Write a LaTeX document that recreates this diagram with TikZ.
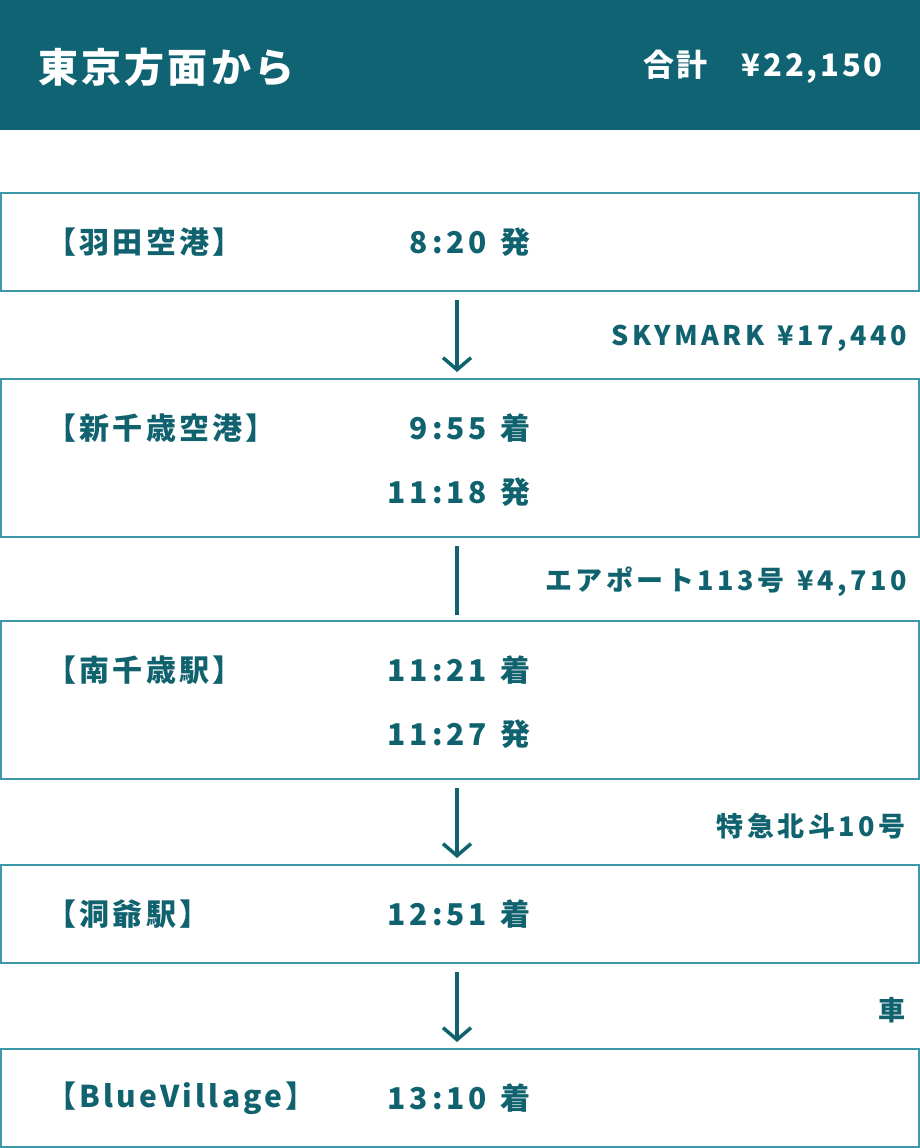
\documentclass[tikz,border=0pt]{standalone}
\usepackage{fontspec}
\setmainfont{Noto Sans CJK JP}
\usetikzlibrary{arrows.meta,calc}
\definecolor{headbg}{HTML}{0F6373}
\definecolor{txt}{HTML}{10626F}
\definecolor{frame}{HTML}{3D98AA}
\tikzset{
  stopbox/.style={draw=frame,line width=2pt,minimum width=918pt,minimum height=98pt,inner sep=0pt,fill=white},
  place/.style={anchor=west,text=txt,font=\fontsize{30pt}{32pt}\selectfont\bfseries\addfontfeatures{LetterSpace=11},inner sep=0pt},
  ttime/.style={anchor=east,text=txt,font=\fontsize{30pt}{32pt}\selectfont\bfseries\addfontfeatures{LetterSpace=13},inner sep=0pt},
  leg/.style={anchor=east,text=txt,font=\fontsize{27pt}{29pt}\selectfont\bfseries\addfontfeatures{LetterSpace=13},inner sep=0pt},
  conn/.style={draw=txt,line width=3.5pt},
  connarrow/.style={conn,-{Straight Barb[length=12pt,width=28pt,line width=3.5pt]}},
}
\begin{document}
\begin{tikzpicture}[x=1pt,y=-1pt]
\useasboundingbox (0,0) rectangle (920,1148);
\fill[headbg] (0,0) rectangle (920,130);
\node[anchor=west,text=white,inner sep=0pt,font=\fontsize{40pt}{42pt}\selectfont\bfseries\addfontfeatures{LetterSpace=8}] (title) at (38,67) {東京方面から};
\node[anchor=east,text=white,inner sep=0pt,font=\fontsize{31pt}{33pt}\selectfont\bfseries\addfontfeatures{LetterSpace=9}] (total) at (883,67) {合計\hspace{1.1em}¥22,150};

\node[stopbox] (b1) at (460,242) {};
\node[stopbox,minimum height=158pt] (b2) at (460,458) {};
\node[stopbox,minimum height=158pt] (b3) at (460,700) {};
\node[stopbox] (b4) at (460,914) {};
\node[stopbox] (b5) at (460,1098) {};

\node[place] (p1) at (46,242) {【羽田空港】};
\node[ttime] (t1) at (531,242) {8:20\hspace{0.1em} 発};
\node[place] (p2) at (46,428) {【新千歳空港】};
\node[ttime] (t2a) at (531,428) {9:55\hspace{0.1em} 着};
\node[ttime] (t2b) at (531,492) {11:18\hspace{0.1em} 発};
\node[place] (p3) at (46,670) {【南千歳駅】};
\node[ttime] (t3a) at (531,670) {11:21\hspace{0.1em} 着};
\node[ttime] (t3b) at (531,734) {11:27\hspace{0.1em} 発};
\node[place] (p4) at (46,914) {【洞爺駅】};
\node[ttime] (t4) at (531,914) {12:51\hspace{0.1em} 着};
\node[place] (p5) at (46,1098) {【BlueVillage】};
\node[ttime] (t5) at (531,1098) {13:10\hspace{0.1em} 着};

\node[leg] (l1) at (907,338) {SKYMARK\hspace{0.12em} ¥17,440};
\node[leg] (l2) at (907,582) {エアポート113号\hspace{0.12em} ¥4,710};
\node[leg] (l3) at (906,826) {特急北斗10号};
\node[leg] (l4) at (906,1010) {車};

\coordinate (ax) at (457,0);
\draw[connarrow,shorten <=8pt,shorten >=6pt] (b1.south -| ax) -- (b2.north -| ax);
\draw[conn,shorten <=8pt,shorten >=5pt] (b2.south -| ax) -- (b3.north -| ax);
\draw[connarrow,shorten <=8pt,shorten >=6pt] (b3.south -| ax) -- (b4.north -| ax);
\draw[connarrow,shorten <=8pt,shorten >=6pt] (b4.south -| ax) -- (b5.north -| ax);
\end{tikzpicture}
\end{document}
